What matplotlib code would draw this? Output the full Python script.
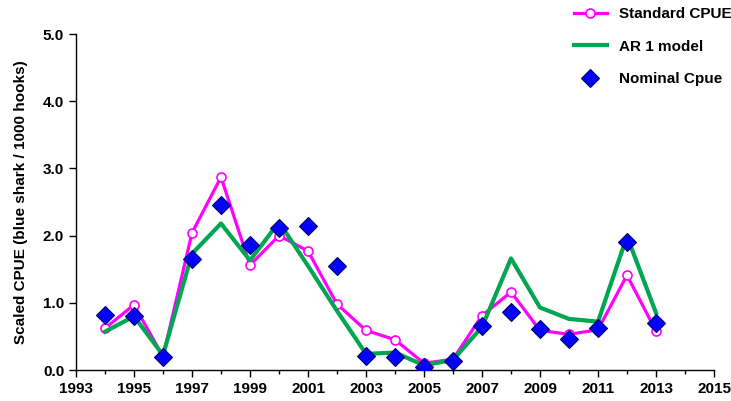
import numpy as np
import matplotlib.pyplot as plt
from matplotlib.ticker import FixedLocator, MultipleLocator, FormatStrFormatter

plt.rcParams['font.family'] = ['Liberation Sans', 'DejaVu Sans']
plt.rcParams['font.weight'] = 'bold'

years = np.arange(1994, 2014)
standard_cpue = [0.62, 0.97, 0.20, 2.04, 2.87, 1.56, 2.00, 1.77, 0.98, 0.59,
                 0.45, 0.10, 0.16, 0.81, 1.16, 0.59, 0.53, 0.60, 1.41, 0.58]
ar1_model = [0.57, 0.80, 0.22, 1.73, 2.18, 1.63, 2.20, 1.55, 0.88, 0.24,
             0.26, 0.07, 0.15, 0.64, 1.66, 0.93, 0.76, 0.72, 1.99, 0.85]
nominal_cpue = [0.82, 0.81, 0.19, 1.65, 2.45, 1.86, 2.12, 2.14, 1.55, 0.21,
                0.20, 0.05, 0.13, 0.65, 0.86, 0.61, 0.46, 0.62, 1.91, 0.70]

fig = plt.figure(figsize=(7.31, 4.01), dpi=100)
ax = fig.add_axes([76 / 731, 31 / 401, 638 / 731, 336 / 401])

ax.plot(years, standard_cpue, color='#FF00FF', lw=2.3, marker='o', ms=6.5,
        mfc='white', mec='#FF00FF', mew=1.2, label='Standard CPUE', zorder=3)
ax.plot(years, ar1_model, color='#00A651', lw=3.0, label='AR 1 model', zorder=4)
ax.plot(years, nominal_cpue, ls='none', marker='D', ms=9, mfc='#0000FF',
        mec='#000066', mew=0.8, label='Nominal Cpue', zorder=5)

ax.set_xlim(1993, 2015)
ax.set_ylim(0, 5)
ax.xaxis.set_major_locator(FixedLocator(np.arange(1993, 2016, 2)))
ax.xaxis.set_minor_locator(MultipleLocator(1))
ax.yaxis.set_major_locator(MultipleLocator(1))
ax.yaxis.set_major_formatter(FormatStrFormatter('%.1f'))
ax.tick_params(axis='both', which='major', direction='out', length=5, width=1,
               labelsize=11)
ax.tick_params(axis='x', which='minor', direction='out', length=3, width=1)
for side in ['top', 'right']:
    ax.spines[side].set_visible(False)
for side in ['left', 'bottom']:
    ax.spines[side].set_linewidth(1)
ax.set_ylabel('Scaled CPUE (blue shark / 1000 hooks)', fontsize=11,
              fontweight='bold', labelpad=11)

leg = fig.legend(loc='upper right', bbox_to_anchor=(1.016, 1.008), frameon=False,
                 fontsize=11, handlelength=2.2, labelspacing=1.2,
                 borderaxespad=0.3)

fig.savefig('out.png', dpi=100)
